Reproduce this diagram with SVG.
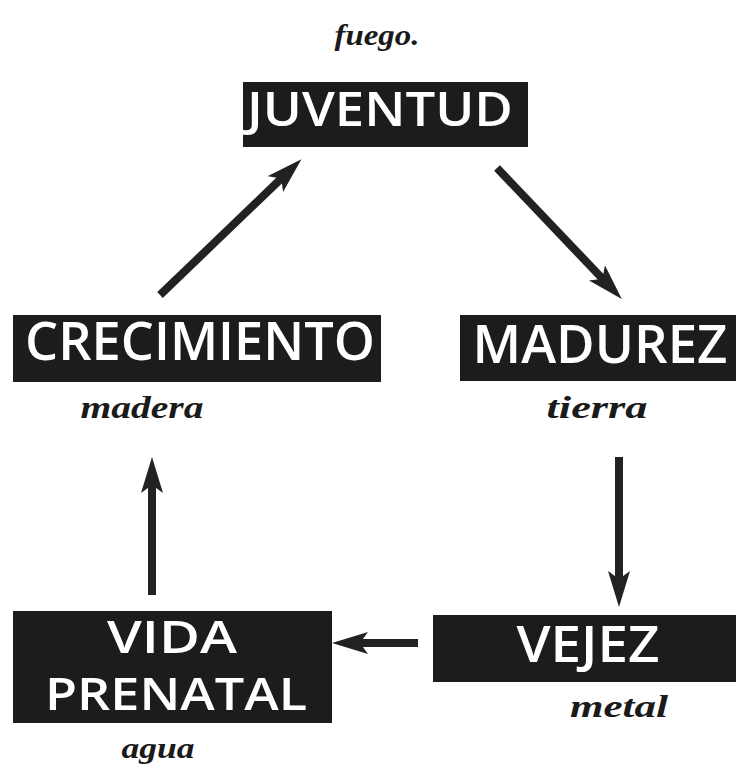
<svg xmlns="http://www.w3.org/2000/svg" width="736" height="779" viewBox="0 0 736 779">
<style>
.box{fill:#1c1c1c}
.lbl{fill:#ffffff;font-family:"Open Sans","Liberation Sans",sans-serif;font-weight:600;text-anchor:middle}
.elem{fill:#1a1a1a;font-family:"Liberation Serif","DejaVu Serif",serif;font-style:italic;font-weight:700;text-anchor:middle}
.arr{stroke:#222222;stroke-width:8;fill:none}
</style>
<defs>
<marker id="ah" viewBox="0 0 36 22" refX="16" refY="11" markerWidth="36" markerHeight="22" markerUnits="userSpaceOnUse" orient="auto">
<path d="M0,0 L36,11 L0,22 L8,11 Z" fill="#222222"/>
</marker>
</defs>
<rect width="736" height="779" fill="#ffffff"/>
<g id="juventud">
<text class="elem" x="377" y="45" font-size="30" textLength="85" lengthAdjust="spacingAndGlyphs">fuego.</text>
<rect class="box" x="243" y="82" width="285" height="65"/>
<text class="lbl" x="380" y="126" font-size="47" textLength="266" lengthAdjust="spacingAndGlyphs">JUVENTUD</text>
</g>
<g id="crecimiento">
<rect class="box" x="13" y="315" width="368" height="67"/>
<text class="lbl" x="200" y="360" font-size="52" textLength="350" lengthAdjust="spacingAndGlyphs">CRECIMIENTO</text>
<text class="elem" x="142" y="418" font-size="32" textLength="123" lengthAdjust="spacingAndGlyphs">madera</text>
</g>
<g id="madurez">
<rect class="box" x="460" y="315" width="276" height="66"/>
<text class="lbl" x="600" y="363" font-size="52" textLength="255" lengthAdjust="spacingAndGlyphs">MADUREZ</text>
<text class="elem" x="597" y="418" font-size="32" textLength="101" lengthAdjust="spacingAndGlyphs">tierra</text>
</g>
<g id="vejez">
<rect class="box" x="433" y="615" width="303" height="67"/>
<text class="lbl" x="588" y="662" font-size="51" textLength="143" lengthAdjust="spacingAndGlyphs">VEJEZ</text>
<text class="elem" x="619" y="717" font-size="32" textLength="98" lengthAdjust="spacingAndGlyphs">metal</text>
</g>
<g id="vida-prenatal">
<rect class="box" x="13" y="611" width="319" height="112"/>
<text class="lbl" x="172" y="653" font-size="45" textLength="130" lengthAdjust="spacingAndGlyphs">VIDA</text>
<text class="lbl" x="176" y="710" font-size="46" textLength="262" lengthAdjust="spacingAndGlyphs">PRENATAL</text>
<text class="elem" x="158" y="758" font-size="30" textLength="73" lengthAdjust="spacingAndGlyphs">agua</text>
</g>
<g id="connectors">
<line class="arr" x1="160" y1="295" x2="287" y2="173" marker-end="url(#ah)"/>
<line class="arr" x1="497" y1="168" x2="608" y2="284.5" marker-end="url(#ah)"/>
<line class="arr" x1="619" y1="457" x2="619" y2="587" marker-end="url(#ah)"/>
<line class="arr" x1="418" y1="643" x2="352" y2="643" marker-end="url(#ah)"/>
<line class="arr" x1="152" y1="595" x2="152" y2="477" marker-end="url(#ah)"/>
</g>
</svg>
